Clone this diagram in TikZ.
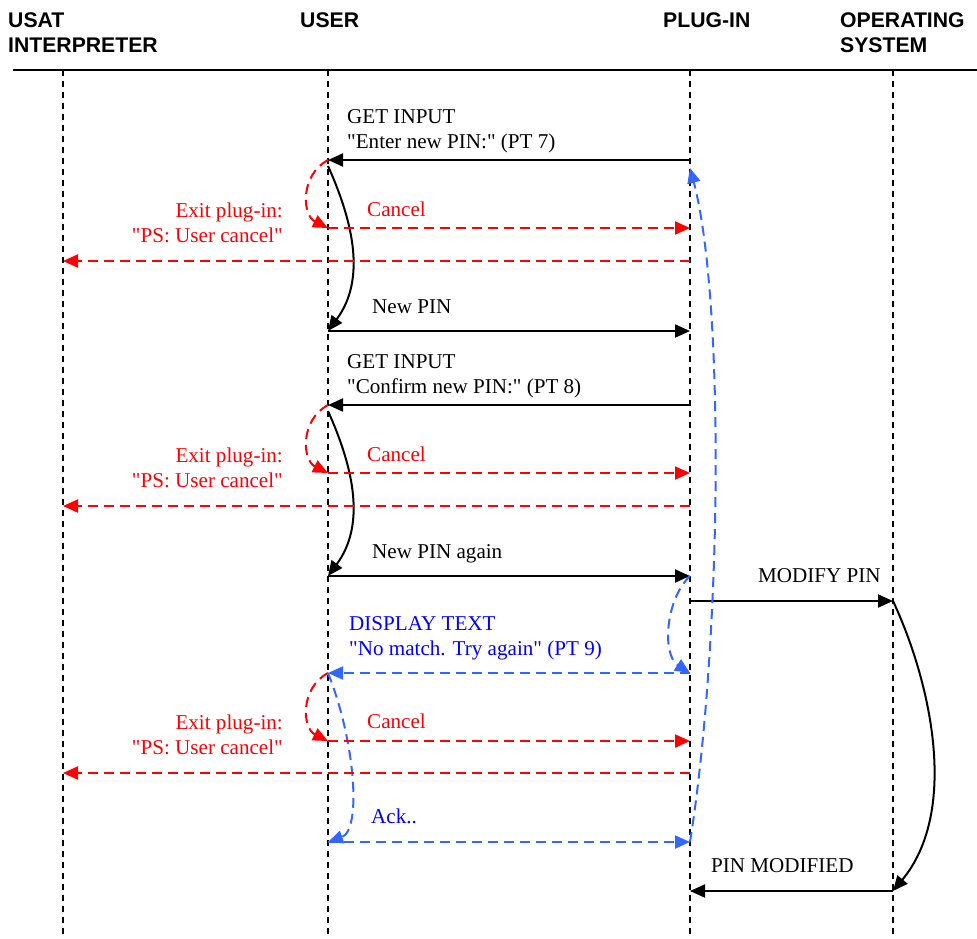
\documentclass[tikz,border=0pt]{standalone}
\usepackage{fontspec}
\setmainfont{Liberation Serif}[Ligatures=TeXOff]
\newfontfamily\headfont{Liberation Sans}
\usepackage{tikz}
\usetikzlibrary{arrows.meta}
\usetikzlibrary{positioning}
\usepackage{xcolor}
\definecolor{cancelred}{RGB}{255,0,0}
\definecolor{dispblue}{RGB}{51,102,255}
\definecolor{disptext}{RGB}{0,0,255}
\tikzset{lifeline/.style={line width=1.5pt, dash pattern=on 6pt off 5pt},
        head/.style={font=\headfont\bfseries\fontsize{21.2}{25}\selectfont, align=left, anchor=base west, inner sep=0pt},
        msglabel/.style={font=\fontsize{21.1}{25}\selectfont, align=left, anchor=base west, inner sep=0pt},
        exitlabel/.style={msglabel, cancelred, align=right, anchor=base east},
        msg/.style={line width=2pt, -{Triangle[length=15pt,width=13pt]}},
        cancelmsg/.style={msg, cancelred, dash pattern=on 10pt off 6pt},
        dispmsg/.style={msg, dispblue, dash pattern=on 10pt off 6pt},
}

\begin{document}
\begin{tikzpicture}[x=1pt, y=-1pt]
      \useasboundingbox (0,0) rectangle (977,938);
      % HEADERS (base = last line)
      \node[head] (usathead) at (8,52) {USAT\\INTERPRETER};
      \node[head] (userhead) at (300,27) {USER};
      \node[head] (pluginhead) at (663,27) {PLUG-IN};
      \node[head] (oshead) at (840,52) {OPERATING\\SYSTEM};
      \coordinate (rulel) at (13,70);
      \coordinate (ruler) at (977,70);
      \draw[line width=2pt] (rulel) -- (ruler);

      % LIFELINES
      \coordinate (usat) at (63,70);
      \coordinate (user) at (328,70);
      \coordinate (plugin) at (690,70);
      \coordinate (os) at (893,70);
      \coordinate (bottom) at (0,938);
      \draw[lifeline] (usat) -- (usat |- bottom);
      \draw[lifeline] (user) -- (user |- bottom);
      \draw[lifeline] (plugin) -- (plugin |- bottom);
      \draw[lifeline] (os) -- (os |- bottom);

      % message rows
      \coordinate (get1) at (0,160);
      \coordinate (cancel1) at (0,228);
      \coordinate (exit1) at (0,261);
      \coordinate (pin1) at (0,331);
      \coordinate (get2) at (0,405);
      \coordinate (cancel2) at (0,473);
      \coordinate (exit2) at (0,506);
      \coordinate (pin2) at (0,576);
      \coordinate (modify) at (0,601);
      \coordinate (display) at (0,673);
      \coordinate (cancel3) at (0,741);
      \coordinate (exit3) at (0,773);
      \coordinate (ack) at (0,842);
      \coordinate (modified) at (0,891);

      % FIRST PIN
      \node[msglabel] (get1lbl) at (347,148) {GET INPUT\\"Enter new PIN:" (PT 7)};
      \draw[msg] (plugin |- get1) -- (user |- get1);
      \draw[cancelmsg] (user |- get1) .. controls +(-28,15) and +(-26,-13) .. (user |- cancel1);
      \draw[msg] ([yshift=-6pt]user |- get1) .. controls +(27,60) and +(37,-50) .. (user |- pin1);
      \node[msglabel, cancelred] (cancel1lbl) at (367,216) {Cancel};
      \draw[cancelmsg] (user |- cancel1) -- (plugin |- cancel1);
      \node[exitlabel] (exit1lbl) at (283,242) {Exit plug-in:\\"PS: User cancel"};
      \draw[cancelmsg] (plugin |- exit1) -- (usat |- exit1);
      \node[msglabel] (pin1lbl) at (372,313) {New PIN};
      \draw[msg] (user |- pin1) -- (plugin |- pin1);

      % CONFIRM PIN
      \node[msglabel] (get2lbl) at (347,393) {GET INPUT\\"Confirm new PIN:" (PT 8)};
      \draw[msg] (plugin |- get2) -- (user |- get2);
      \draw[cancelmsg] (user |- get2) .. controls +(-28,15) and +(-26,-13) .. (user |- cancel2);
      \draw[msg] ([yshift=-6pt]user |- get2) .. controls +(27,60) and +(37,-50) .. (user |- pin2);
      \node[msglabel, cancelred] (cancel2lbl) at (367,461) {Cancel};
      \draw[cancelmsg] (user |- cancel2) -- (plugin |- cancel2);
      \node[exitlabel] (exit2lbl) at (283,487) {Exit plug-in:\\"PS: User cancel"};
      \draw[cancelmsg] (plugin |- exit2) -- (usat |- exit2);
      \node[msglabel] (pin2lbl) at (372,558) {New PIN again};
      \draw[msg] (user |- pin2) -- (plugin |- pin2);

      % OPERATING SYSTEM
      \node[msglabel] (modifylbl) at (758,582) {MODIFY PIN};
      \draw[msg] (plugin |- modify) -- (os |- modify);
      \draw[msg] (os |- modify) .. controls +(37,79) and +(67,-81) .. (os |- modified);
      \node[msglabel] (modifiedlbl) at (711,872) {PIN MODIFIED};
      \draw[msg] (os |- modified) -- (plugin |- modified);

      % NO MATCH
      \draw[dispmsg] (plugin |- pin2) .. controls +(-25,24) and +(-28,-18) .. (plugin |- display);
      \node[msglabel, disptext] (displaylbl) at (349,655) {DISPLAY TEXT\\"No match. Try again" (PT 9)};
      \draw[dispmsg] (plugin |- display) -- (user |- display);
      \draw[cancelmsg] (user |- display) .. controls +(-28,15) and +(-26,-13) .. (user |- cancel3);
      \draw[dispmsg] (user |- display) .. controls +(27,67) and +(34,-12) .. (user |- ack);
      \node[msglabel, cancelred] (cancel3lbl) at (367,728) {Cancel};
      \draw[cancelmsg] (user |- cancel3) -- (plugin |- cancel3);
      \node[exitlabel] (exit3lbl) at (283,754) {Exit plug-in:\\"PS: User cancel"};
      \draw[cancelmsg] (plugin |- exit3) -- (usat |- exit3);
      \node[msglabel, disptext] (acklbl) at (371,823) {Ack..};
      \draw[dispmsg] (user |- ack) -- (plugin |- ack);
      \draw[dispmsg] (plugin |- ack) .. controls +(32,-202) and +(35,132) .. ([yshift=-8pt]plugin |- get1);
\end{tikzpicture}
\end{document}
